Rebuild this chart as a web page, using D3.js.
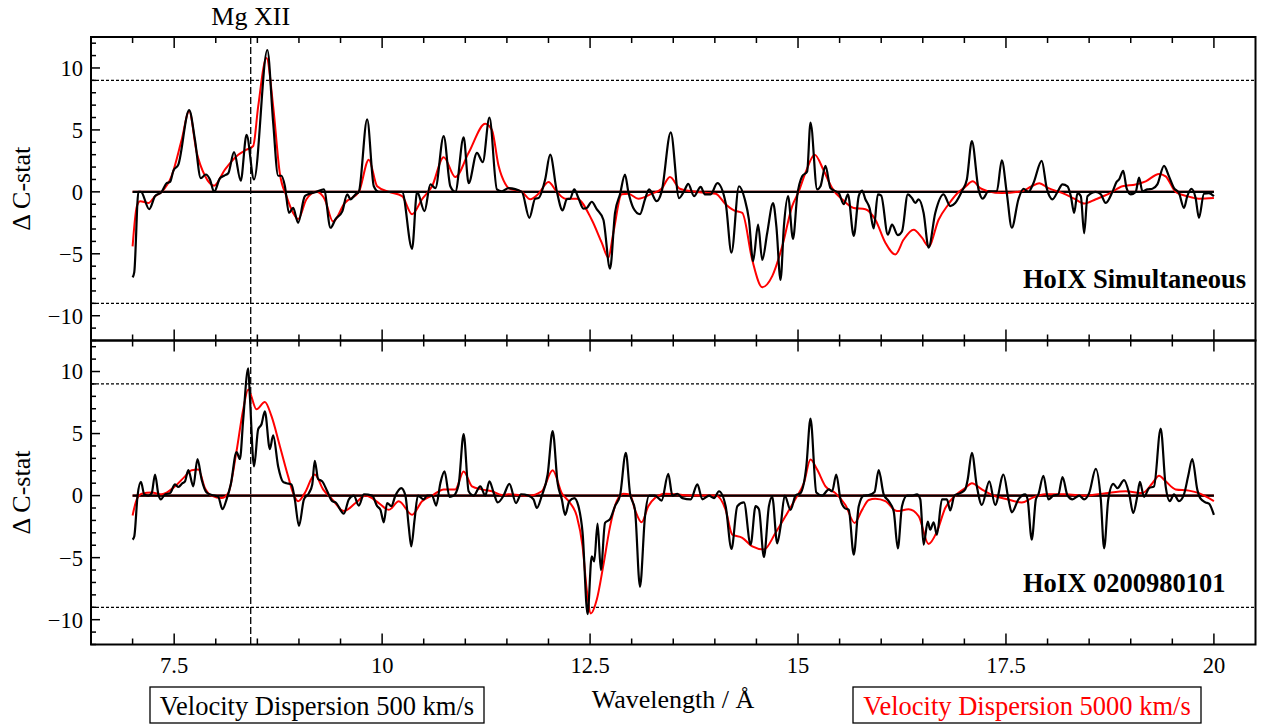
<!DOCTYPE html>
<html><head><meta charset="utf-8">
<script src="https://cdn.jsdelivr.net/npm/d3@7"></script>
<style>body{margin:0;background:#fff}svg{display:block}</style>
</head><body>
<script>
// ---- data (wavelength Å, Δ C-stat) ----
const topBlack = [[7.00,-6.9],[7.02,-6.5],[7.07,0],[7.10,0],[7.20,-1.4],[7.27,-0.35],[7.35,0],[7.41,0.7],[7.45,0.8],[7.49,1.7],[7.55,2.2],[7.68,6.6],[7.75,4.2],[7.82,1.1],[7.88,1.4],[7.93,1.0],[7.98,0],[8.05,1.1],[8.10,1.3],[8.15,1.5],[8.22,3.2],[8.30,0.9],[8.37,4.6],[8.46,1.0],[8.62,11.45],[8.69,5.6],[8.75,1.3],[8.79,1.3],[8.83,0.5],[8.88,-1.7],[8.93,-1.3],[8.99,-2.5],[9.07,-0.35],[9.11,-0.2],[9.21,0],[9.30,0.2],[9.38,-2.9],[9.44,-2.2],[9.52,-1.6],[9.58,-0.2],[9.62,-0.6],[9.68,-0.2],[9.72,0],[9.82,5.85],[9.90,0.45],[9.96,0],[10.24,0],[10.36,-4.6],[10.42,0],[10.51,-1.55],[10.58,0.6],[10.64,0.3],[10.74,4.5],[10.82,0.45],[10.88,0],[10.98,4.4],[11.04,0.7],[11.14,3.15],[11.21,2.4],[11.29,6.0],[11.38,0.2],[11.44,0.05],[11.52,0.3],[11.68,0],[11.77,-2.1],[11.84,-0.55],[11.88,-0.5],[11.96,1.0],[12.02,3.0],[12.10,0.05],[12.17,-1.5],[12.22,-0.6],[12.26,-0.55],[12.31,0.2],[12.36,-0.5],[12.42,-1.35],[12.46,-1.3],[12.52,-0.8],[12.58,-1.4],[12.66,-2.25],[12.74,-6.2],[12.80,-1.7],[12.86,-0.2],[12.92,1.4],[12.96,0],[13.02,-1.3],[13.10,-1.8],[13.16,-0.6],[13.21,0.2],[13.30,-0.75],[13.36,0],[13.47,4.8],[13.57,-0.5],[13.63,0.05],[13.68,0.65],[13.75,-0.35],[13.83,0.4],[13.88,-0.2],[13.95,-0.2],[14.03,0.7],[14.13,-0.9],[14.20,-4.9],[14.29,0.45],[14.36,-0.6],[14.41,-2.25],[14.46,-5.6],[14.52,-2.65],[14.57,-5.5],[14.63,-3.3],[14.70,-0.9],[14.74,-2.8],[14.79,-7.1],[14.83,-2.8],[14.88,-0.35],[14.94,-3.8],[14.99,-0.35],[15.05,1.25],[15.11,1.65],[15.15,5.6],[15.23,0.2],[15.27,0.45],[15.33,2.1],[15.39,0.3],[15.45,0.05],[15.49,-0.1],[15.55,-1.0],[15.60,-0.2],[15.67,-3.55],[15.73,-0.35],[15.77,0.1],[15.81,-0.6],[15.86,-1.3],[15.91,-2.95],[15.96,-0.2],[16.00,-0.3],[16.08,-3.45],[16.13,-2.65],[16.20,-3.5],[16.25,-3.2],[16.32,-0.2],[16.37,-0.5],[16.41,-0.9],[16.45,-0.6],[16.51,-1.7],[16.57,-4.5],[16.65,-1.7],[16.75,-0.2],[16.83,-1.15],[16.89,-0.9],[16.97,0.05],[17.03,1.0],[17.09,4.1],[17.17,0.2],[17.22,-0.55],[17.29,0.05],[17.39,0.05],[17.45,2.55],[17.51,-0.1],[17.57,-2.9],[17.65,-0.6],[17.71,0.25],[17.77,0],[17.83,0.7],[17.93,2.5],[17.99,0.3],[18.06,-0.6],[18.12,0],[18.18,0.6],[18.24,0.45],[18.28,-0.35],[18.32,-1.7],[18.36,-0.1],[18.40,-0.35],[18.44,-3.35],[18.48,-0.35],[18.58,0],[18.64,-0.2],[18.70,-0.9],[18.78,0],[18.83,0.8],[18.86,1.0],[18.91,1.7],[18.95,0.3],[19.00,-0.2],[19.06,0],[19.10,1.15],[19.14,0.05],[19.20,0.2],[19.26,0.25],[19.32,0.6],[19.40,2.1],[19.46,1.25],[19.52,0.3],[19.58,-0.1],[19.64,-1.3],[19.68,-0.35],[19.73,0.25],[19.78,-0.5],[19.82,-2.1],[19.88,-0.15],[19.94,-0.1],[20.00,-0.35]];

const topRed = [[7.0,-4.4],[7.05,-1.2],[7.09,-0.75],[7.19,-0.9],[7.27,-0.35],[7.35,0],[7.47,1.3],[7.59,4.2],[7.68,6.5],[7.77,3.2],[7.87,1.3],[7.98,0.5],[8.11,1.8],[8.27,3.0],[8.37,3.4],[8.45,3.7],[8.51,6.9],[8.61,10.8],[8.69,6.9],[8.77,1.5],[8.85,-0.35],[8.93,-1.7],[8.99,-2.2],[9.09,-0.6],[9.21,0],[9.31,-0.6],[9.41,-2.4],[9.55,-0.9],[9.72,0],[9.84,2.6],[9.94,0.45],[10.08,0],[10.24,-0.35],[10.36,-1.8],[10.48,-0.6],[10.60,0.45],[10.74,2.8],[10.88,1.2],[11.04,3.15],[11.24,5.5],[11.32,5.0],[11.40,2.1],[11.48,0.65],[11.52,0.3],[11.68,0],[11.78,-0.6],[11.88,-0.15],[12.0,0.8],[12.10,0],[12.20,-0.55],[12.34,-0.55],[12.52,-2.25],[12.64,-4.1],[12.72,-5.3],[12.78,-3.3],[12.88,-0.2],[12.96,-0.15],[13.08,-0.55],[13.24,-0.15],[13.36,0.25],[13.46,1.2],[13.58,0.25],[13.77,0],[14.01,-0.15],[14.13,-1.0],[14.23,-1.5],[14.33,-1.7],[14.45,-5.5],[14.57,-7.7],[14.69,-6.8],[14.81,-4.4],[14.93,-1.15],[15.01,0.05],[15.09,1.55],[15.20,3.0],[15.31,1.7],[15.41,0.3],[15.53,-0.6],[15.67,-1.3],[15.81,-1.4],[15.93,-2.25],[16.05,-4.1],[16.17,-5.05],[16.27,-3.85],[16.39,-3.05],[16.49,-3.7],[16.57,-4.4],[16.69,-2.25],[16.81,-1.0],[16.91,-0.15],[17.01,0.4],[17.10,0.85],[17.19,0.3],[17.29,0.05],[17.45,-0.1],[17.69,0.05],[17.81,0.45],[17.90,0.7],[18.01,0.3],[18.18,-0.1],[18.32,-0.55],[18.44,-0.95],[18.58,-0.6],[18.74,-0.15],[18.90,0.45],[19.06,0.6],[19.18,0.85],[19.34,1.45],[19.42,1.25],[19.54,0],[19.68,-0.35],[19.82,-0.55],[20.0,-0.5]];

const botBlack = [[7.0,-3.55],[7.02,-3.3],[7.06,0],[7.10,1.1],[7.14,0.1],[7.19,0],[7.23,0.2],[7.27,1.7],[7.31,0.1],[7.34,-0.3],[7.39,0.1],[7.45,0.2],[7.51,0.9],[7.55,0.7],[7.60,1.0],[7.63,1.15],[7.67,2.05],[7.73,0.75],[7.78,2.95],[7.83,1.3],[7.89,0.25],[7.95,0.05],[8.03,-0.1],[8.08,-1.1],[8.13,-0.3],[8.18,0.9],[8.25,3.5],[8.29,2.95],[8.33,6.15],[8.39,10.25],[8.41,8.0],[8.46,2.35],[8.51,5.35],[8.55,5.75],[8.59,6.8],[8.65,3.75],[8.69,4.85],[8.75,2.35],[8.81,1.1],[8.85,1.0],[8.91,0.9],[8.95,-0.3],[9.0,-2.45],[9.06,-0.3],[9.12,0.2],[9.16,0.9],[9.19,2.8],[9.23,1.35],[9.28,1.15],[9.34,0.35],[9.40,-0.45],[9.44,-0.55],[9.54,-1.45],[9.60,-0.3],[9.66,0],[9.72,-0.8],[9.78,0.1],[9.88,0],[9.94,-0.85],[9.98,-1.15],[10.02,-2.15],[10.06,-0.6],[10.11,-0.85],[10.16,0],[10.23,0.6],[10.28,0],[10.32,-2.5],[10.35,-4.1],[10.39,-1.95],[10.43,0],[10.50,-0.3],[10.54,0],[10.60,0],[10.65,-0.8],[10.70,1.0],[10.75,1.95],[10.81,-0.1],[10.86,0],[10.92,0.9],[10.98,4.95],[11.04,0.35],[11.10,0],[11.18,0.75],[11.24,0],[11.29,1.15],[11.34,0.25],[11.39,-0.55],[11.46,0],[11.53,0.95],[11.61,-0.6],[11.67,0.1],[11.76,0],[11.82,-0.3],[11.86,-1.0],[11.92,0],[11.99,1.7],[12.05,5.2],[12.11,1.0],[12.16,-0.3],[12.20,-1.55],[12.25,-0.45],[12.31,-0.2],[12.36,-0.85],[12.41,-3.0],[12.47,-9.55],[12.52,-4.9],[12.55,-5.3],[12.59,-2.25],[12.63,-6.0],[12.68,-2.2],[12.74,-1.9],[12.80,-0.85],[12.86,0],[12.93,3.45],[12.98,0.2],[13.04,-1.15],[13.10,-7.35],[13.16,-1.7],[13.21,0],[13.28,0],[13.36,-0.4],[13.44,1.75],[13.49,0],[13.55,0.15],[13.61,-0.2],[13.71,-0.3],[13.79,0.9],[13.85,-0.3],[13.93,0],[13.99,-0.2],[14.05,0.35],[14.13,-0.85],[14.20,-4.3],[14.27,-0.85],[14.35,-0.55],[14.43,-3.95],[14.49,-0.85],[14.53,-1.1],[14.59,-4.95],[14.65,-0.85],[14.69,-0.1],[14.75,-3.85],[14.79,-2.5],[14.84,0],[14.91,-1.15],[14.97,0],[15.03,0.2],[15.10,2.35],[15.15,6.2],[15.22,0.25],[15.29,0],[15.37,0.5],[15.41,0.35],[15.46,1.7],[15.51,-0.3],[15.56,-1.0],[15.61,-1.15],[15.67,-4.75],[15.73,-0.85],[15.79,0],[15.85,0.05],[15.92,0.3],[15.97,2.05],[16.03,0.1],[16.09,-0.45],[16.15,-1.25],[16.20,-4.25],[16.25,-0.85],[16.31,0],[16.37,0],[16.43,0.1],[16.47,-0.3],[16.51,-3.95],[16.56,-2.1],[16.59,-2.75],[16.63,-2.15],[16.67,-3.15],[16.73,-0.3],[16.79,-0.3],[16.83,-1.2],[16.88,0],[16.95,0.2],[17.01,0.5],[17.04,1.3],[17.09,3.45],[17.15,0.75],[17.21,-0.75],[17.30,1.15],[17.37,-0.75],[17.47,1.7],[17.53,-0.3],[17.57,-1.35],[17.65,-0.3],[17.73,0.1],[17.76,-0.3],[17.81,-3.55],[17.86,-0.3],[17.89,0.1],[17.95,1.6],[18.01,-0.3],[18.07,0],[18.13,0.1],[18.18,1.5],[18.24,0],[18.30,-0.3],[18.38,0],[18.44,-0.3],[18.50,0.2],[18.58,2.15],[18.64,-0.3],[18.68,-4.25],[18.73,-0.3],[18.79,0.95],[18.84,0.6],[18.92,1.25],[18.98,0.2],[19.03,-1.4],[19.08,0],[19.11,1.1],[19.16,-0.1],[19.22,0.6],[19.28,0.75],[19.36,5.4],[19.42,0.75],[19.47,-0.45],[19.52,0.1],[19.58,-0.45],[19.64,0.1],[19.69,1.55],[19.74,2.95],[19.80,0.5],[19.84,-0.25],[19.90,-0.55],[19.94,-0.65],[20.0,-1.55]];

const botRed = [[7.0,-1.6],[7.05,-0.3],[7.11,0.15],[7.23,0.25],[7.35,0.1],[7.51,0.75],[7.63,1.55],[7.71,2.05],[7.79,2.1],[7.87,0.6],[7.95,0],[8.07,-0.2],[8.15,0.2],[8.25,3.6],[8.33,6.95],[8.39,8.55],[8.49,6.95],[8.59,7.55],[8.67,6.4],[8.77,4.0],[8.87,1.55],[8.93,0.2],[8.99,-0.45],[9.07,0.2],[9.19,1.7],[9.29,0.5],[9.40,-0.3],[9.54,-1.25],[9.68,-0.6],[9.80,0],[9.96,-0.6],[10.08,-1.15],[10.20,-0.45],[10.36,-1.55],[10.48,-0.45],[10.60,0],[10.74,0.5],[10.88,0.5],[10.98,1.95],[11.08,0.75],[11.20,0.5],[11.32,0.35],[11.44,0.05],[11.52,0.1],[11.76,0],[11.92,0.35],[12.05,2.05],[12.16,0.2],[12.26,-0.6],[12.34,-1.65],[12.41,-4.1],[12.46,-7.6],[12.51,-9.5],[12.58,-8.4],[12.66,-5.6],[12.74,-2.5],[12.82,-0.45],[12.90,0.15],[12.98,0.1],[13.04,-1.15],[13.12,-2.15],[13.20,-0.85],[13.28,-0.2],[13.40,0.15],[13.53,0.1],[13.77,0],[14.01,0],[14.13,-1.15],[14.21,-3.15],[14.33,-3.4],[14.45,-4.1],[14.59,-4.35],[14.73,-3.0],[14.85,-1.65],[14.97,-0.25],[15.07,1.0],[15.15,2.9],[15.23,2.1],[15.33,0.75],[15.45,0.2],[15.57,-0.75],[15.68,-2.2],[15.77,-1.15],[15.85,-0.35],[15.93,-0.25],[16.05,-0.45],[16.19,-1.25],[16.33,-1.1],[16.45,-1.65],[16.57,-3.9],[16.67,-2.9],[16.77,-1.0],[16.89,0],[17.01,0.6],[17.09,1.0],[17.21,0.5],[17.35,0],[17.49,-0.25],[17.69,-0.55],[17.81,-0.2],[17.97,0.1],[18.21,0.1],[18.45,0],[18.70,0.2],[18.94,0.35],[19.14,0.2],[19.26,1.0],[19.34,1.6],[19.42,1.15],[19.54,0.5],[19.70,0.4],[19.82,0.2],[20.0,-0.45]];

const xMajorTicks = [7.5, 10, 12.5, 15, 17.5, 20];
const xTickLabels = ["7.5", "10", "12.5", "15", "17.5", "20"];
const yMajorTicks = [-10, -5, 0, 5, 10];
const yTickLabels = ["\u221210", "\u22125", "0", "5", "10"];
const panelTitles = ["HoIX Simultaneous", "HoIX 0200980101"];
const thresholds = [9, -9];
const lineWavelength = 8.42;
const lineLabel = "Mg XII";

// ---- drawing ----
const W = 1266, H = 724;
const FONT = "'Liberation Serif', 'Times New Roman', 'DejaVu Serif', serif";
const svg = d3.select("body").append("svg").attr("width", W).attr("height", H)
  .attr("font-family", FONT);
svg.append("rect").attr("width", W).attr("height", H).attr("fill", "#fff");

const L = 91, R = 1255.5;
const x = d3.scaleLinear().domain([6.5, 20.5]).range([L, R]);
const panels = [
  {top: 37, bottom: 340.5, black: topBlack, red: topRed, title: panelTitles[0], ty: 288},
  {top: 340.5, bottom: 644.5, black: botBlack, red: botRed, title: panelTitles[1], ty: 592}
];
const minorX = d3.range(7, 20.001, 0.5);
const minorY = d3.range(-12, 12.001, 1);

panels.forEach((p, i) => {
  const y = d3.scaleLinear().domain([-12, 12.5]).range([p.bottom, p.top]);
  const g = svg.append("g");

  thresholds.forEach(t => {
    g.append("line").attr("x1", L).attr("x2", R).attr("y1", y(t)).attr("y2", y(t))
      .attr("stroke", "#000").attr("stroke-width", 1.2).attr("stroke-dasharray", "3,2");
  });

  g.append("line").attr("x1", x(7)).attr("x2", x(20)).attr("y1", y(0)).attr("y2", y(0))
    .attr("stroke", "#ff0000").attr("stroke-width", 2.3);
  g.append("line").attr("x1", x(7)).attr("x2", x(20)).attr("y1", y(0)).attr("y2", y(0))
    .attr("stroke", "#000").attr("stroke-width", 2.1);

  const line = d3.line().x(d => x(d[0])).y(d => y(d[1])).curve(d3.curveMonotoneX);
  g.append("path").attr("d", line(p.red)).attr("fill", "none")
    .attr("stroke", "#ff0000").attr("stroke-width", 2).attr("stroke-linejoin", "round");
  g.append("path").attr("d", line(p.black)).attr("fill", "none")
    .attr("stroke", "#000").attr("stroke-width", 2.2).attr("stroke-linejoin", "round");

  minorX.forEach(v => {
    const major = xMajorTicks.some(m => Math.abs(m - v) < 1e-6);
    const len = major ? 11 : 6;
    g.append("line").attr("x1", x(v)).attr("x2", x(v)).attr("y1", p.top).attr("y2", p.top + len)
      .attr("stroke", "#000").attr("stroke-width", 1.5);
    g.append("line").attr("x1", x(v)).attr("x2", x(v)).attr("y1", p.bottom).attr("y2", p.bottom - len)
      .attr("stroke", "#000").attr("stroke-width", 1.5);
  });
  minorY.forEach(v => {
    const major = yMajorTicks.includes(v);
    g.append("line").attr("x1", L).attr("x2", L + (major ? 9 : 5)).attr("y1", y(v)).attr("y2", y(v))
      .attr("stroke", "#000").attr("stroke-width", 1.5);
  });
  yMajorTicks.forEach((v, k) => {
    g.append("text").attr("x", 83).attr("y", y(v)).attr("dy", "0.35em").attr("text-anchor", "end")
      .attr("font-size", 22.5).text(yTickLabels[k]);
  });

  g.append("rect").attr("x", L).attr("y", p.top).attr("width", R - L).attr("height", p.bottom - p.top)
    .attr("fill", "none").attr("stroke", "#000").attr("stroke-width", 2);

  g.append("text").attr("transform", `translate(30,${(p.top + p.bottom) / 2}) rotate(-90)`)
    .attr("text-anchor", "middle").attr("font-size", 26).text("\u0394 C-stat");

  g.append("text").attr("x", 1023).attr("y", p.ty).attr("font-size", 26.5).attr("font-weight", "bold")
    .text(p.title);

  if (i === 1) {
    xMajorTicks.forEach((v, k) => {
      svg.append("text").attr("x", x(v)).attr("y", 673).attr("text-anchor", "middle")
        .attr("font-size", 22.5).text(xTickLabels[k]);
    });
  }
});

svg.append("line").attr("x1", x(lineWavelength)).attr("x2", x(lineWavelength)).attr("y1", 37).attr("y2", 644.5)
  .attr("stroke", "#000").attr("stroke-width", 1.3).attr("stroke-dasharray", "7,3");
svg.append("text").attr("x", x(lineWavelength)).attr("y", 25).attr("text-anchor", "middle")
  .attr("font-size", 26).text(lineLabel);

svg.append("text").attr("x", 673).attr("y", 708).attr("text-anchor", "middle").attr("font-size", 26)
  .text("Wavelength / \u00c5");

const legends = [
  {x: 150, w: 334, color: "#000", text: "Velocity Dispersion 500 km/s"},
  {x: 853, w: 348, color: "#ff0000", text: "Velocity Dispersion 5000 km/s"}
];
legends.forEach(l => {
  svg.append("rect").attr("x", l.x).attr("y", 687).attr("width", l.w).attr("height", 36)
    .attr("fill", "#fff").attr("stroke", "#000").attr("stroke-width", 1.3);
  svg.append("text").attr("x", l.x + l.w / 2).attr("y", 715).attr("text-anchor", "middle")
    .attr("font-size", 26.5).attr("fill", l.color).text(l.text);
});
</script>
</body></html>
